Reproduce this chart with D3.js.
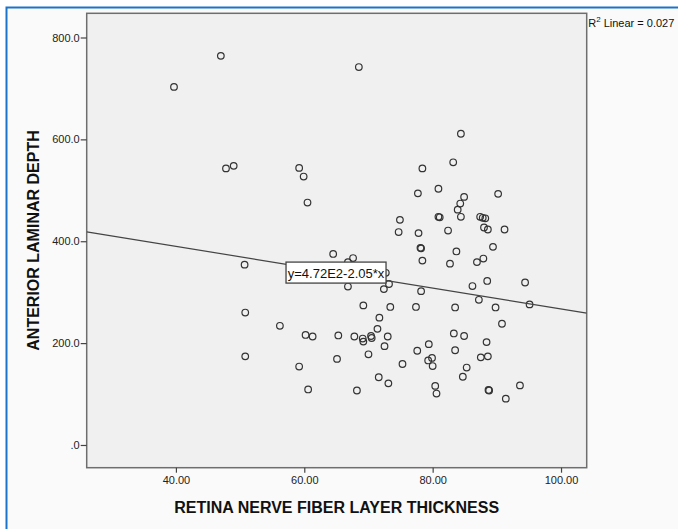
<!DOCTYPE html>
<html>
<head>
<meta charset="utf-8">
<script src="https://cdn.jsdelivr.net/npm/d3@7"></script>
<style>
  body { margin: 0; background: #ffffff; }
  svg { display: block; font-family: "Liberation Sans", Arial, sans-serif; }
  .tick text { font-size: 11px; fill: #222; }
  .axis_text { font-size: 16px; font-weight: bold; fill: #111; }
</style>
</head>
<body>
<script>

// retina nerve fiber layer thickness (x) and anterior laminar depth (y)
var rnfl = [39.7, 47.0, 68.5, 84.4, 47.8, 49.0, 59.2, 59.9, 78.4, 83.2,
            60.5, 77.7, 80.9, 84.9, 90.2, 84.3, 83.9, 84.4, 74.9, 80.9,
            81.1, 87.4, 87.8, 88.2, 74.7, 77.8, 82.4, 88.0, 88.6, 91.2,
            78.1, 78.2, 83.7, 89.4, 78.4, 82.7, 86.9, 87.9, 64.5, 67.6,
            66.8, 50.7, 66.8, 72.4, 73.2, 72.7, 78.2, 86.2, 88.5, 94.4,
            87.2, 95.1, 69.2, 73.4, 77.4, 83.5, 89.8, 50.8, 56.2, 71.7,
            71.4, 90.8, 60.2, 61.3, 65.3, 67.8, 69.1, 69.2, 70.5, 70.4,
            73.0, 83.3, 84.9, 88.4, 79.4, 72.5, 50.8, 59.2, 60.6, 65.1,
            68.2, 70.0, 71.6, 73.1, 75.3, 77.6, 79.3, 79.9, 80.0, 80.4,
            80.6, 83.5, 84.7, 85.3, 87.5, 88.6, 88.7, 88.8, 91.4, 93.6];

var depth = [703, 764, 742, 611, 543, 548, 544, 527, 543, 555,
             476, 494, 503, 487, 493, 474, 462, 448, 442, 448,
             447, 448, 446, 445, 418, 416, 421, 427, 423, 423,
             387, 386, 380, 389, 362, 356, 359, 366, 375, 367,
             359, 354, 311, 306, 316, 338, 302, 312, 322, 319,
             285, 276, 274, 271, 271, 270, 270, 260, 234, 250,
             228, 238, 216, 213, 215, 213, 209, 203, 210, 214,
             213, 219, 214, 202, 198, 194, 174, 154, 109, 169,
             107, 178, 133, 121, 159, 185, 166, 171, 155, 116,
             101, 186, 134, 152, 172, 174, 108, 107, 91, 117];

var xTicks = [40, 60, 80, 100];
var xTickLabels = ["40.00", "60.00", "80.00", "100.00"];
var yTicks = [0, 200, 400, 600, 800];
var yTickLabels = [".0", "200.0", "400.0", "600.0", "800.0"];

// fit line as printed on the chart: y = 4.72E2 - 2.05 * x
var intercept = 472;
var slope = -2.05;
var fitLabel = "y=4.72E2-2.05*x";
var r2Value = "0.027";

var w = 678;
var h = 529;
var plot = {left: 86.7, right: 586.7, top: 13.3, bottom: 467.7};

var svg = d3.select("body")
            .append("svg")
            .attr("width", w)
            .attr("height", h);

// page background and blue window frame
svg.append("rect")
   .attr("x", 6.5)
   .attr("y", 7.5)
   .attr("width", w)
   .attr("height", h)
   .style("fill", "#fafafa")
   .style("stroke", "#1c74c9")
   .style("stroke-width", 2);

var xScale = d3.scaleLinear()
               .domain([26.1, 104])
               .range([plot.left, plot.right]);

var yScale = d3.scaleLinear()
               .domain([-44.6, 847.5])
               .range([plot.bottom, plot.top]);

// plot background
svg.append("rect")
   .attr("x", plot.left)
   .attr("y", plot.top)
   .attr("width", plot.right - plot.left)
   .attr("height", plot.bottom - plot.top)
   .style("fill", "#f0f0f0")
   .style("stroke", "#6e6e6e")
   .style("stroke-width", 1.5);

// x-axis
var xAxis = svg.append("g")
   .attr("transform", "translate(0," + plot.bottom + ")")
   .call(d3.axisBottom(xScale)
           .tickValues(xTicks)
           .tickSize(5)
           .tickPadding(4)
           .tickFormat(function(d, i) { return xTickLabels[i]; }));

// y-axis
var yAxis = svg.append("g")
   .attr("transform", "translate(" + plot.left + ",0)")
   .call(d3.axisLeft(yScale)
           .tickValues(yTicks)
           .tickSize(6)
           .tickPadding(1)
           .tickFormat(function(d, i) { return yTickLabels[i]; }));

[xAxis, yAxis].forEach(function(ax) {
  ax.select(".domain").remove();
  ax.selectAll(".tick line").style("stroke", "#444").style("stroke-width", 1.2);
});

// axis labels
svg.append("text")
   .attr("class", "axis_text")
   .attr("x", (plot.left + plot.right) / 2)
   .attr("y", 513)
   .style("text-anchor", "middle")
   .text("RETINA NERVE FIBER LAYER THICKNESS");

svg.append("text")
   .attr("class", "axis_text")
   .attr("transform", "translate(39," + ((plot.top + plot.bottom) / 2) + ") rotate(-90)")
   .style("text-anchor", "middle")
   .text("ANTERIOR LAMINAR DEPTH");

// clip for the fit line
svg.append("clipPath")
   .attr("id", "plotclip")
   .append("rect")
   .attr("x", plot.left)
   .attr("y", plot.top)
   .attr("width", plot.right - plot.left)
   .attr("height", plot.bottom - plot.top);

// dots
var points = rnfl.map(function(d, i) { return [d, depth[i]]; });

svg.append("g")
   .selectAll("circle")
   .data(points)
   .enter().append("circle")
   .attr("r", 3.3)
   .attr("cx", function(d) { return xScale(d[0]); })
   .attr("cy", function(d) { return yScale(d[1]); })
   .style("fill", "none")
   .style("stroke", "#333")
   .style("stroke-width", 1.2);

// fit line
var xd = xScale.domain();
svg.append("line")
   .attr("clip-path", "url(#plotclip)")
   .attr("x1", xScale(xd[0]))
   .attr("y1", yScale(intercept + slope * xd[0]))
   .attr("x2", xScale(xd[1]))
   .attr("y2", yScale(intercept + slope * xd[1]))
   .style("stroke", "#444")
   .style("stroke-width", 1.2);

// fit label box, anchored on the line
var labelX = 57.0;
var lx = xScale(labelX);
var ly = yScale(intercept + slope * labelX);
var label = svg.append("g");
label.append("rect")
   .attr("x", lx + 1)
   .attr("y", ly - 2)
   .attr("width", 100)
   .attr("height", 21)
   .style("fill", "#ffffff")
   .style("stroke", "#444")
   .style("stroke-width", 1.3);
label.append("text")
   .attr("x", lx + 51)
   .attr("y", ly + 13.5)
   .style("font-size", "13px")
   .style("text-anchor", "middle")
   .style("fill", "#111")
   .text(fitLabel);

// R squared note
var r2 = svg.append("text")
   .attr("x", plot.right + 1.5)
   .attr("y", 27)
   .style("font-size", "11px")
   .style("fill", "#111");
r2.append("tspan").text("R");
r2.append("tspan").attr("dy", -5).style("font-size", "8px").text("2");
r2.append("tspan").attr("dy", 5).text(" Linear = " + r2Value);

</script>
</body>
</html>
